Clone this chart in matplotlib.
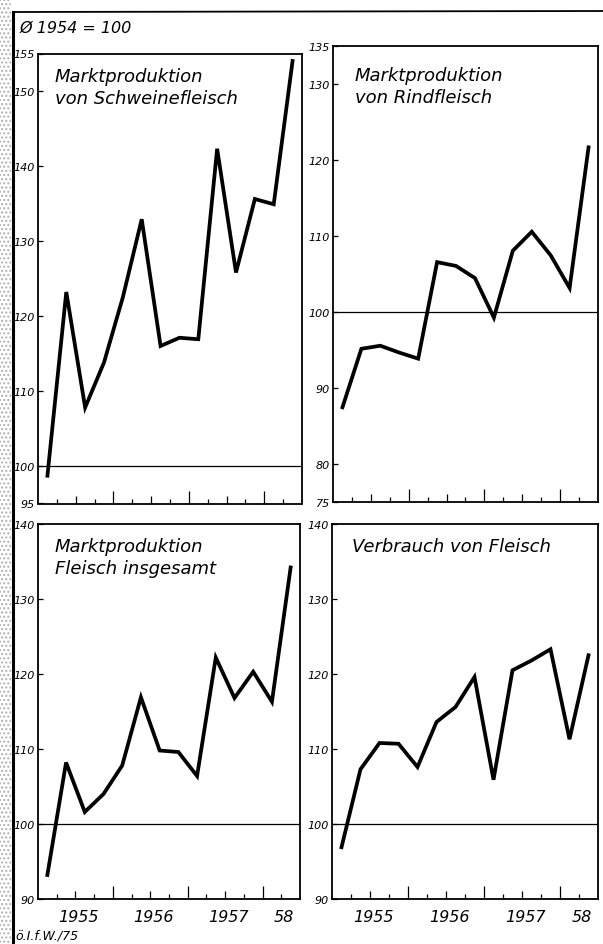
import numpy as np
import pandas as pd
import matplotlib
matplotlib.use('Agg')
import matplotlib.pyplot as plt
from matplotlib.lines import Line2D
from matplotlib.patches import Rectangle
from matplotlib.transforms import blended_transform_factory

# quarterly index values, 1954 = 100
quarters = pd.period_range('1955Q1', '1958Q2', freq='Q')
schweinefleisch = [98.7, 123.2, 107.8, 113.8, 122.5, 132.9, 116.0,
                   117.1, 116.9, 142.3, 125.8, 135.6, 134.9, 154.0]
rindfleisch = [87.5, 95.2, 95.6, 94.7, 93.9, 106.6, 106.1,
               104.5, 99.3, 108.1, 110.6, 107.5, 103.2, 121.7]
fleisch_insgesamt = [93.2, 108.2, 101.6, 104.0, 107.8, 116.9, 109.8,
                     109.6, 106.4, 122.2, 116.8, 120.3, 116.3, 134.2]
verbrauch = [96.9, 107.3, 110.8, 110.7, 107.6, 113.6, 115.6,
             119.6, 105.9, 120.5, 121.8, 123.3, 111.3, 122.5]

titles = ['Marktproduktion\nvon Schweinefleisch',
          'Marktproduktion\nvon Rindfleisch',
          'Marktproduktion\nFleisch insgesamt',
          'Verbrauch von Fleisch']
yticks_schwein = [95, 100, 110, 120, 130, 140, 150, 155]
yticks_rind = [75, 80, 90, 100, 110, 120, 130, 135]
yticks_gesamt = [90, 100, 110, 120, 130, 140]
yticks_verbrauch = [90, 100, 110, 120, 130, 140]
year_labels = ['1955', '1956', '1957', '58']

x = quarters.year + (quarters.quarter - 0.5) / 4
x0, x1 = 1955.0, 1958.5

plt.rcParams['font.family'] = 'DejaVu Sans'
W, H = 603, 945
fig = plt.figure(figsize=(W / 100, H / 100), dpi=100)


def px_axes(left, top, right, bottom):
    return fig.add_axes([left / W, 1 - bottom / H, (right - left) / W, (bottom - top) / H])


def panel(ax, values, yticks, title, tx, ty, years):
    ax.plot(x, values, color='black', lw=2.7, solid_joinstyle='miter')
    ax.axhline(100, color='black', lw=0.9)
    ax.set_xlim(x0, x1)
    ax.set_ylim(yticks[0], yticks[-1])
    ax.set_yticks(yticks)
    ax.set_yticklabels([str(t) for t in yticks], fontstyle='italic', fontsize=8)
    ax.tick_params(axis='y', direction='in', length=3.5, width=0.9, pad=2)
    qt = np.arange(x0 + 0.25, x1, 0.25)
    ax.set_xticks(qt)
    ax.set_xticklabels([])
    ax.tick_params(axis='x', direction='in', width=0.9)
    for t, pos in zip(ax.xaxis.get_major_ticks(), qt):
        frac = pos % 1
        size = 9.5 if frac == 0 else (6 if frac == 0.5 else 3.5)
        t.tick1line.set_markersize(size)
    for s in ax.spines.values():
        s.set_linewidth(1.3)
    ax.text(tx, ty, title, transform=ax.transAxes, ha='left', va='top',
            fontsize=13, fontstyle='italic', linespacing=1.3)
    if years:
        tr = blended_transform_factory(ax.transData, ax.transAxes)
        for i, lab in enumerate(year_labels):
            y = int(x0) + i
            c = (max(y, x0) + min(y + 1, x1)) / 2
            ax.text(c + 0.04, -0.048, lab, transform=tr, ha='center', va='center',
                    fontsize=11.5, fontstyle='italic')


ax1 = px_axes(38, 54.5, 302, 504.5)
ax2 = px_axes(333, 47.3, 598, 503.3)
ax3 = px_axes(38, 525, 300, 900)
ax4 = px_axes(332, 525, 598, 900)

panel(ax1, schweinefleisch, yticks_schwein, titles[0], 0.064, 0.97, False)
panel(ax2, rindfleisch, yticks_rind, titles[1], 0.083, 0.957, False)
panel(ax3, fleisch_insgesamt, yticks_gesamt, titles[2], 0.064, 0.965, True)
panel(ax4, verbrauch, yticks_verbrauch, titles[3], 0.075, 0.965, True)

# sheet frame and scan margin
fig.add_artist(Rectangle((0, 0), 11 / W, 1, transform=fig.transFigure,
                         facecolor='white', edgecolor='#b0b0b0', hatch='....', lw=0))
fig.add_artist(Line2D([13 / W, 13 / W], [0, 1 - 13 / H], transform=fig.transFigure,
                      color='black', lw=2.2))
fig.add_artist(Line2D([13 / W, 1], [1 - 13 / H, 1 - 12 / H], transform=fig.transFigure,
                      color='black', lw=1.3))

fig.text(20 / W, 1 - 28 / H, 'Ø 1954 = 100', fontsize=11.5, fontstyle='italic',
         ha='left', va='center')
fig.text(15 / W, 1 - 936 / H, 'ö.I.f.W./75', fontsize=9, fontstyle='italic',
         ha='left', va='center')

fig.savefig('out.png', dpi=100, facecolor='white')
